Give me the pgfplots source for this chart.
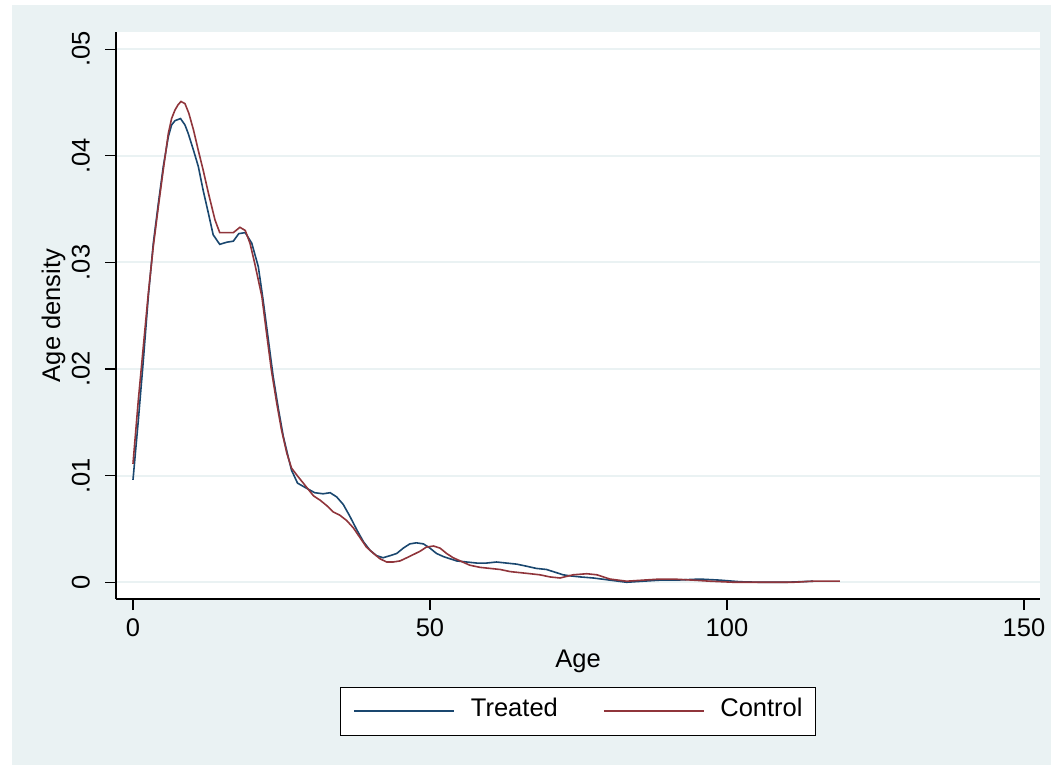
\documentclass[border=0pt]{standalone}
\usepackage{pgfplots}
\pgfplotsset{compat=1.18}
\usepackage{fontspec}
\setmainfont{Liberation Sans}
\definecolor{bgc}{RGB}{234,242,243}
\definecolor{snavy}{RGB}{26,71,111}
\definecolor{smaroon}{RGB}{144,53,59}
\newcommand{\sz}{\fontsize{25.5}{30}\selectfont}
\begin{document}
\begin{tikzpicture}[x=1pt,y=1pt]
\useasboundingbox (0,0) rectangle (1051,765);
\fill[white] (0,0) rectangle (1051,765);
\fill[bgc] (12,0) rectangle (1051,760);
\begin{axis}[
  at={(116pt,166pt)}, anchor=south west,
  scale only axis, width=924pt, height=567pt,
  xmin=-2.86, xmax=152.7, ymin=-0.00157, ymax=0.05162,
  axis background/.style={fill=white},
  axis x line*=bottom, axis y line*=left,
  axis line style={black, line width=1.2pt},
  tick align=outside, major tick length=11pt,
  tick style={black, line width=1.2pt},
  xtick={0,50,100,150},
  ytick={0,0.01,0.02,0.03,0.04,0.05},
  yticklabels={0,.01,.02,.03,.04,.05},
  scaled y ticks=false,
  /pgf/number format/assume math mode=true,
  ymajorgrids, grid style={color=bgc, line width=2pt},
  xticklabel style={font=\sz, inner sep=0pt, anchor=north},
  xticklabel shift=8.3pt,
  yticklabel style={font=\sz, inner sep=0pt, rotate=90, anchor=south},
  yticklabel shift=15pt,
  xlabel={Age},
  xlabel style={font=\sz, inner sep=0pt, at={(axis description cs:0.5,-0.0887)}, anchor=north},
  ylabel={Age density},
  ylabel style={font=\sz, inner sep=0pt, at={(axis description cs:-0.0606,0.5)}, anchor=base},
  legend columns=2,
  legend style={at={(0.5,-0.1552)}, anchor=north, draw=black, line width=0.9pt, fill=white,
    font=\sz, inner xsep=13pt, inner ysep=10.3pt,
    nodes={inner sep=0pt, text height=18.7pt, text depth=8.7pt},
    /tikz/every odd column/.append style={column sep=15.5pt},
    /tikz/every even column/.append style={column sep=45pt}},
  legend image code/.code={\draw[#1, line width=2pt] (0pt,0pt) -- (100pt,0pt);},
]
\addplot[draw=snavy, line width=1.6pt] table {
0 0.0096
0.9 0.0152
1.74 0.0208
2.58 0.0268
3.42 0.0318
4.26 0.0355
5.1 0.0390
5.95 0.0418
6.5 0.0429
7.07 0.0433
8.0 0.0435
8.75 0.0429
9.3 0.0421
10.2 0.0405
11.0 0.0390
11.8 0.0368
12.7 0.0346
13.5 0.0326
14.6 0.0317
15.8 0.0319
16.9 0.0320
17.8 0.0327
18.9 0.0328
20.0 0.0318
21.1 0.0296
21.9 0.0265
22.8 0.0227
23.6 0.0193
24.5 0.0162
25.3 0.0137
26.2 0.0116
26.7 0.0105
27.7 0.0093
28.96 0.0089
30.6 0.0084
32.0 0.0083
33.2 0.0084
34.3 0.0080
35.4 0.0073
36.5 0.0062
37.7 0.0049
38.8 0.0038
39.9 0.0030
41.0 0.0025
42.1 0.0023
43.3 0.0025
44.4 0.0027
45.5 0.0032
46.6 0.0036
47.7 0.0037
48.9 0.0036
50.0 0.0032
51.1 0.0027
52.3 0.0024
53.4 0.0022
54.5 0.0020
56.2 0.0019
57.9 0.0018
59.5 0.0018
61.2 0.0019
62.9 0.0018
64.6 0.0017
66.3 0.0015
67.9 0.0013
69.6 0.0012
71.3 0.0009
72.4 0.0007
73.6 0.0006
75.3 0.0005
77.5 0.0004
80.3 0.0002
83.1 0.0000
85.9 0.0001
88.7 0.0002
91.5 0.0002
95.4 0.0003
98.8 0.0002
102.2 0.00005
105.5 0.0
110 0.0
114.5 0.0001
};
\addlegendentry{Treated}
\addplot[draw=smaroon, line width=1.6pt] table {
0 0.0111
0.9 0.0171
1.74 0.0221
2.58 0.0271
3.42 0.0315
4.26 0.0352
5.1 0.0387
5.95 0.0421
6.5 0.0435
7.07 0.0443
7.6 0.0448
8.08 0.0451
8.75 0.0449
9.4 0.0440
10.2 0.0424
11.0 0.0405
11.8 0.0387
12.7 0.0365
13.8 0.0340
14.6 0.0328
15.8 0.0328
16.9 0.0328
18.0 0.0333
18.9 0.0330
19.7 0.0318
20.5 0.0299
21.7 0.0268
22.5 0.0233
23.3 0.0199
24.2 0.0168
25.0 0.0143
25.9 0.0121
26.7 0.0107
27.8 0.0099
28.96 0.0091
30.4 0.0081
31.5 0.0077
32.6 0.0072
33.7 0.0066
34.8 0.0063
35.96 0.0058
37.1 0.0051
38.2 0.0042
39.3 0.0033
40.5 0.0027
41.6 0.0022
42.7 0.0019
43.8 0.0019
44.95 0.0020
46.1 0.0023
47.2 0.0026
48.3 0.0029
49.4 0.0033
50.6 0.0034
51.7 0.0032
52.8 0.0027
53.9 0.0023
55.1 0.0020
56.7 0.0016
58.4 0.0014
60.1 0.0013
61.8 0.0012
63.5 0.0010
65.2 0.0009
66.9 0.0008
68.5 0.0007
70.2 0.0005
71.9 0.0004
74.1 0.0007
76.4 0.0008
78.1 0.0007
80.3 0.0003
83.1 0.0001
85.9 0.0002
88.7 0.0003
90.95 0.0003
94.3 0.0002
97.1 0.0001
101.1 0.0
105.5 0.0
111.2 0.0
114.5 0.0001
119.0 0.0001
};
\addlegendentry{Control}
\end{axis}
\end{tikzpicture}
\end{document}
